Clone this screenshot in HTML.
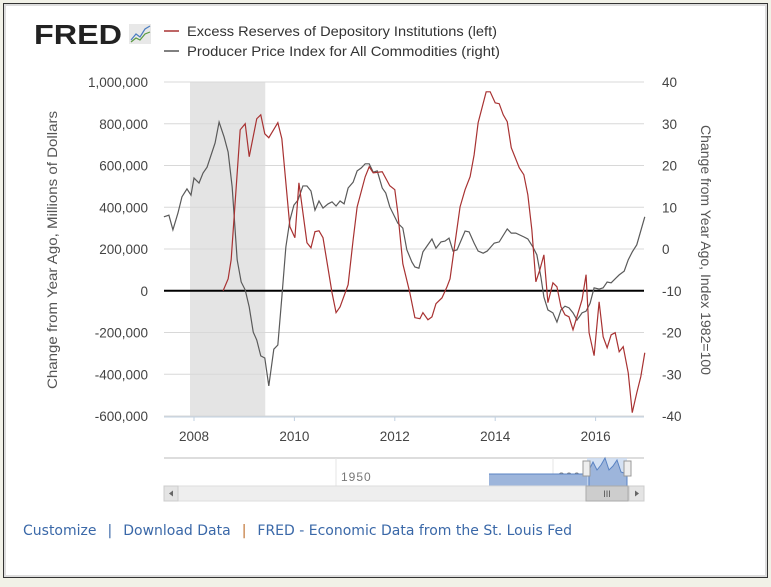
<!DOCTYPE html>
<html><head><meta charset="utf-8"><style>
body{margin:0;width:771px;height:587px;background:#f1f1e7;overflow:hidden;font-family:"Liberation Sans",sans-serif}
#frame{position:absolute;left:3px;top:3px;width:763px;height:573px;border:1px solid #333;background:#fff;box-shadow:inset 0 0 0 2px #ddd}
.links{position:absolute;left:23px;top:523px;font-family:"DejaVu Sans","Liberation Sans",sans-serif;font-size:14px;color:#3a68a8;letter-spacing:0;white-space:nowrap}
.links span{cursor:pointer}
.sep{color:#c07030;margin:0 11px}
</style></head><body>
<div id="frame"></div>
<svg id="chart" width="771" height="587" style="position:absolute;left:0;top:0" font-family="Liberation Sans, sans-serif">
  <g>
    <text x="34" y="44" font-size="28" font-weight="bold" fill="#222" textLength="88" lengthAdjust="spacingAndGlyphs">FRED</text>
    <rect x="129" y="24" width="22" height="20" fill="#e8e8e8"/>
    <polyline points="131,40 136,34 140,37 145,29 150,26" fill="none" stroke="#4a7cc0" stroke-width="1.2"/>
    <polyline points="131,42 136,38 140,40 145,34 150,32" fill="none" stroke="#5a9a40" stroke-width="1.2"/>
  </g>
  <g>
    <line x1="164" y1="31" x2="179" y2="31" stroke="#a83232" stroke-width="1.5"/>
    <text x="187" y="36" font-size="14" fill="#333" textLength="310" lengthAdjust="spacingAndGlyphs">Excess Reserves of Depository Institutions (left)</text>
    <line x1="164" y1="51" x2="179" y2="51" stroke="#555" stroke-width="1.5"/>
    <text x="187" y="56" font-size="14" fill="#333" textLength="313" lengthAdjust="spacingAndGlyphs">Producer Price Index for All Commodities (right)</text>
  </g>
  <g id="grid"></g>
  <g id="axes"></g>
  <g id="series"></g>
  <text transform="translate(57,250) rotate(-90)" text-anchor="middle" font-size="13.5" fill="#555" textLength="278" lengthAdjust="spacingAndGlyphs">Change from Year Ago, Millions of Dollars</text>
  <text transform="translate(701,250) rotate(90)" text-anchor="middle" font-size="13.5" fill="#555" textLength="250" lengthAdjust="spacingAndGlyphs">Change from Year Ago, Index 1982=100</text>
  <g>
    <line x1="164" y1="458" x2="644" y2="458" stroke="#bbb"/>
    <line x1="336" y1="458" x2="336" y2="486" stroke="#e4e4e4"/>
    <line x1="553" y1="458" x2="553" y2="486" stroke="#e4e4e4"/>
    <text x="341" y="481" font-size="12" fill="#777" letter-spacing="1">1950</text>
    <text x="558" y="481" font-size="12" fill="#777" letter-spacing="1">2000</text>
    <path d="M489,474 L589,474 L589,486 L489,486 Z" fill="#9db5db"/>
    <line x1="489" y1="474" x2="589" y2="474" stroke="#5a83c3"/>
    <rect x="587" y="458" width="40" height="28" fill="#c9daf0" opacity="0.8"/>
    <path d="M589,470 L593,462 L597,470 L601,465 L605,458 L609,470 L613,466 L617,460 L621,472 L627,474 L627,486 L589,486 Z" fill="#9db5db" stroke="#5a83c3"/>
    <rect x="583" y="461" width="7" height="15" fill="#eee" stroke="#999"/>
    <rect x="624" y="461" width="7" height="15" fill="#eee" stroke="#999"/>
  </g>
  <g>
    <rect x="164" y="486" width="480" height="15" fill="#eee" stroke="#ddd"/>
    <rect x="164" y="486" width="14" height="15" fill="#e4e4e4" stroke="#ccc"/>
    <path d="M169,493.5 L173,490.5 L173,496.5 Z" fill="#666"/>
    <rect x="586" y="486" width="42" height="15" fill="#cdcdcd" stroke="#aaa"/>
    <text x="607" y="497" font-size="9" fill="#555" text-anchor="middle">III</text>
    <rect x="629" y="486" width="15" height="15" fill="#e4e4e4" stroke="#ccc"/>
    <path d="M639,493.5 L635,490.5 L635,496.5 Z" fill="#666"/>
  </g>
</svg>
<div class="links"><span>Customize</span><span class="sep" style="color:#3a68a8">|</span><span>Download Data</span><span class="sep">|</span><span>FRED - Economic Data from the St. Louis Fed</span></div>
<script>
const reserveDates=[2008.58,2008.68,2008.74,2008.92,2009.02,2009.10,2009.25,2009.33,2009.41,2009.49,2009.67,2009.75,2009.91,2010.01,2010.09,2010.25,2010.33,2010.41,2010.49,2010.57,2010.75,2010.83,2010.91,2011.07,2011.17,2011.25,2011.41,2011.49,2011.57,2011.75,2011.90,2012.00,2012.06,2012.16,2012.30,2012.40,2012.50,2012.56,2012.66,2012.74,2012.82,2012.94,2013.04,2013.10,2013.20,2013.30,2013.40,2013.50,2013.58,2013.66,2013.82,2013.90,2014.00,2014.08,2014.16,2014.24,2014.32,2014.48,2014.57,2014.65,2014.73,2014.81,2014.89,2014.97,2015.05,2015.15,2015.23,2015.31,2015.39,2015.47,2015.55,2015.73,2015.81,2015.87,2015.97,2016.07,2016.15,2016.23,2016.31,2016.39,2016.47,2016.55,2016.65,2016.73,2016.82,2016.90,2016.98];
const reserveValues=[0,57,148,771,800,642,824,843,752,733,805,728,307,254,517,230,206,283,287,254,-10,-105,-77,29,244,402,546,594,565,570,503,484,374,129,-10,-129,-134,-105,-139,-125,-62,-34,19,57,230,402,484,546,651,805,953,953,900,896,843,810,685,589,556,460,292,43,101,172,-57,38,19,-77,-115,-125,-187,-43,77,-201,-311,-53,-220,-273,-211,-201,-292,-268,-393,-584,-489,-412,-297];
const ppiDates=[2007.40,2007.50,2007.58,2007.68,2007.76,2007.86,2007.94,2008.00,2008.10,2008.18,2008.26,2008.42,2008.50,2008.60,2008.68,2008.76,2008.86,2008.94,2009.02,2009.10,2009.18,2009.25,2009.33,2009.41,2009.49,2009.59,2009.67,2009.75,2009.83,2009.91,2009.99,2010.07,2010.17,2010.25,2010.33,2010.41,2010.49,2010.57,2010.67,2010.75,2010.83,2010.91,2010.99,2011.07,2011.17,2011.25,2011.33,2011.41,2011.49,2011.57,2011.65,2011.75,2011.82,2011.90,2012.06,2012.16,2012.24,2012.34,2012.40,2012.48,2012.56,2012.74,2012.82,2012.92,2013.00,2013.08,2013.16,2013.24,2013.40,2013.48,2013.58,2013.66,2013.76,2013.84,2013.98,2014.08,2014.24,2014.32,2014.41,2014.57,2014.65,2014.75,2014.83,2014.91,2014.97,2015.05,2015.15,2015.23,2015.31,2015.39,2015.47,2015.55,2015.63,2015.73,2015.81,2015.89,2015.97,2016.07,2016.15,2016.23,2016.31,2016.41,2016.47,2016.57,2016.65,2016.73,2016.82,2016.98];
const ppiValues=[7.7,8.1,4.6,8.6,12.5,14.4,12.9,17.0,15.8,18.2,19.6,25.4,30.4,26.8,23.2,14.9,-2.6,-7.9,-9.8,-13.9,-19.9,-21.8,-25.6,-26.1,-32.8,-24.0,-23.0,-11.5,0.5,6.9,10.5,11.7,15.1,15.1,13.9,9.3,11.5,9.8,10.8,11.3,10.3,11.5,10.8,14.6,16.0,18.7,19.4,20.4,20.4,18.4,18.7,14.6,13.4,10.1,6.2,5.0,-0.2,-3.1,-4.3,-4.6,-0.7,2.4,0.2,1.7,1.9,2.6,-0.5,-0.2,4.3,4.1,1.4,-0.5,-1.0,-0.5,1.4,1.7,4.8,3.8,3.8,2.9,2.4,0.5,-1.4,-6.7,-11.5,-14.6,-15.3,-17.5,-14.6,-13.7,-14.1,-15.3,-17.0,-15.3,-14.9,-13.0,-9.3,-9.6,-9.3,-7.9,-8.1,-6.9,-6.2,-5.3,-2.6,-0.7,1.0,7.7];
const leftTicks=[-600000,-400000,-200000,0,200000,400000,600000,800000,1000000];
const rightTicks=[-40,-30,-20,-10,0,10,20,30,40];
const xTicks=[2008,2010,2012,2014,2016];
const recession=[2007.92,2009.42];

const X0=164,X1=644,Y0=82,Y1=416;
const xs=d=>194+(d-2008)*50.2;
const yl=v=>Y1-(v+600000)/1600000*(Y1-Y0);
const yr=v=>Y1-(v+40)/80*(Y1-Y0);
const NS='http://www.w3.org/2000/svg';
function mk(tag,attrs,parent){const e=document.createElementNS(NS,tag);for(const k in attrs)e.setAttribute(k,attrs[k]);document.getElementById(parent).appendChild(e);return e;}
const fmt=v=>v.toLocaleString('en-US');

const rec=mk('rect',{x:xs(recession[0]),y:Y0,width:xs(recession[1])-xs(recession[0]),height:Y1-Y0,fill:'#e4e4e4'},'grid');


leftTicks.forEach(v=>{
  const g=mk('line',{x1:X0,x2:X1,y1:yl(v),y2:yl(v),stroke:'#d8d8d8','stroke-width':1},'grid');
  
  
  const t=mk('text',{x:148,y:yl(v)+5,'text-anchor':'end','font-size':13.5,fill:'#444'},'axes');
  t.textContent=fmt(v);
  
  
});
rightTicks.forEach(v=>{
  const t=mk('text',{x:662,y:yr(v)+5,'font-size':13.5,fill:'#444'},'axes');
  t.textContent=v;
  
  
});
const xa=mk('line',{x1:X0,x2:X1,y1:Y1+1,y2:Y1+1,stroke:'#c0d0e0','stroke-width':1},'axes');


xTicks.forEach(v=>{
  const tk=mk('line',{x1:xs(v),x2:xs(v),y1:Y1+1,y2:Y1+5,stroke:'#c0d0e0'},'axes');
  
  
  const t=mk('text',{x:xs(v),y:441,'text-anchor':'middle','font-size':13.5,fill:'#444'},'axes');
  t.textContent=v;
  
  
});
const zl=mk('line',{x1:X0,x2:X1,y1:yl(0),y2:yl(0),stroke:'#000','stroke-width':2},'series');


const pp=mk('polyline',{points:ppiDates.map((d,i)=>xs(d)+','+yr(ppiValues[i])).join(' '),fill:'none',stroke:'#5a5a5a','stroke-width':1.2},'series');


const rl=mk('polyline',{points:reserveDates.map((d,i)=>xs(d)+','+yl(reserveValues[i]*1000)).join(' '),fill:'none',stroke:'#a83232','stroke-width':1.2},'series');


</script>
</body></html>
